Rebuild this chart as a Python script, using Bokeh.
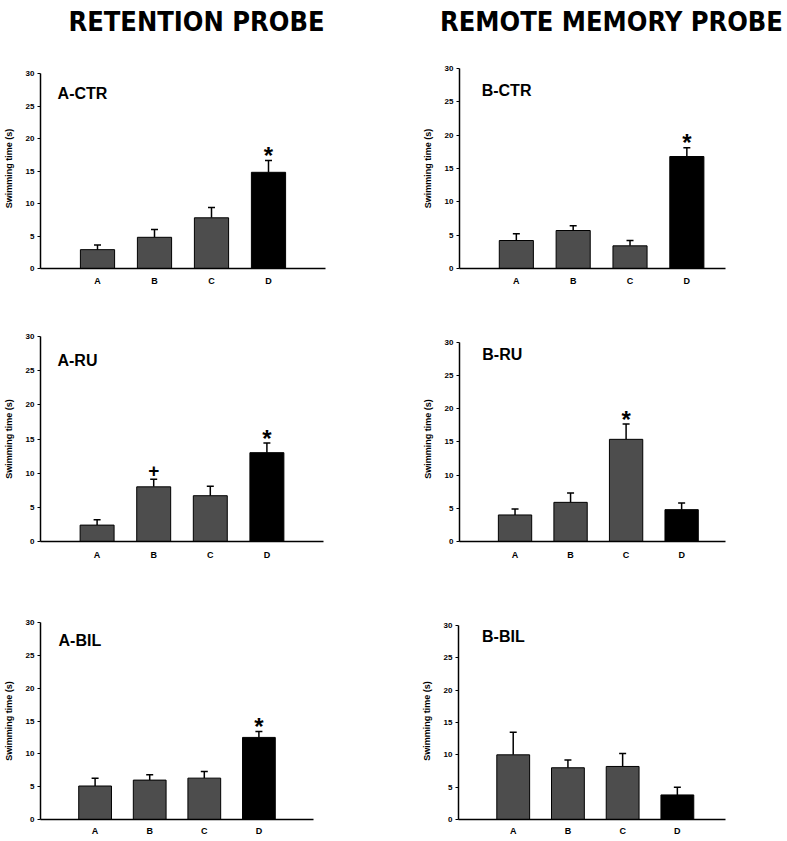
from bokeh.plotting import figure
from bokeh.models import Range1d, FixedTicker, ColumnDataSource, Whisker, TeeHead
from bokeh.layouts import column, row
from bokeh.embed import file_html
from bokeh.resources import INLINE
from bokeh.core.properties import value

# ---------------- data ----------------
categories = ["A", "B", "C", "D"]
x_pos = [1, 2, 3, 4]
y_ticks = [0, 5, 10, 15, 20, 25, 30]
bar_colors = ["#4d4d4d", "#4d4d4d", "#4d4d4d", "#000000"]
column_titles = ["RETENTION PROBE", "REMOTE MEMORY PROBE"]

# Retention probe (left column)
ctr_ret_mean = [2.9, 4.8, 7.8, 14.8]
ctr_ret_sem = [0.7, 1.2, 1.6, 1.8]
ru_ret_mean = [2.4, 8.0, 6.7, 13.0]
ru_ret_sem = [0.8, 1.1, 1.4, 1.4]
bil_ret_mean = [5.1, 6.0, 6.3, 12.5]
bil_ret_sem = [1.2, 0.8, 1.0, 0.9]

# Remote memory probe (right column)
ctr_rem_mean = [4.2, 5.7, 3.4, 16.8]
ctr_rem_sem = [1.0, 0.7, 0.8, 1.3]
ru_rem_mean = [4.0, 5.9, 15.4, 4.8]
ru_rem_sem = [0.9, 1.4, 2.3, 1.0]
bil_rem_mean = [10.0, 8.0, 8.2, 3.8]
bil_rem_sem = [3.5, 1.2, 2.0, 1.2]

# significance marks: (category, symbol)
ctr_ret_marks = [("D", "*")]
ru_ret_marks = [("B", "+"), ("D", "*")]
bil_ret_marks = [("D", "*")]
ctr_rem_marks = [("D", "*")]
ru_rem_marks = [("C", "*")]
bil_rem_marks = []

FONT = "Liberation Sans"


def make_panel(label, means, sems, marks, width, height, bl, br, bt, bb,
               x_end, y_end, lab_x, lab_y, xlab_standoff):
    p = figure(width=width, height=height,
               x_range=Range1d(0, x_end), y_range=Range1d(0, y_end),
               toolbar_location=None, output_backend="svg",
               min_border_left=bl, min_border_right=br,
               min_border_top=bt, min_border_bottom=bb)
    p.outline_line_color = None
    p.grid.visible = False
    p.background_fill_color = "white"
    p.border_fill_color = "white"

    tops = [m + s for m, s in zip(means, sems)]
    src = ColumnDataSource(dict(x=x_pos, top=means, upper=tops, color=bar_colors))
    p.vbar(x="x", top="top", width=0.6, fill_color="color", line_color="black",
           line_width=1, source=src)
    p.add_layout(Whisker(base="x", lower="top", upper="upper", source=src,
                         line_color="black", line_width=1.5,
                         upper_head=TeeHead(size=7, line_width=1.5, line_color="black"),
                         lower_head=None))

    # significance marks
    for sym, size, off in (("*", "24px", -5), ("+", "19px", -9)):
        xs = [x_pos[categories.index(c)] for c, s in marks if s == sym]
        ys = [tops[categories.index(c)] for c, s in marks if s == sym]
        if xs:
            p.text(x=xs, y=ys, text=[sym] * len(xs), text_align="center",
                   text_baseline="alphabetic", y_offset=off,
                   text_font=value(FONT), text_font_style="bold",
                   text_font_size=size, text_color="black")

    # panel label
    p.text(x=[lab_x], y=[lab_y], text=[label], text_align="left",
           text_baseline="alphabetic", y_offset=-6, text_font=value(FONT),
           text_font_style="bold", text_font_size="16px", text_color="black")

    # x axis
    p.xaxis.ticker = FixedTicker(ticks=x_pos)
    p.xaxis.major_label_overrides = {x: c for x, c in zip(x_pos, categories)}
    p.xaxis.minor_tick_line_color = None
    p.xaxis.major_tick_line_color = None
    p.xaxis.major_tick_out = 0
    p.xaxis.major_tick_in = 0
    p.xaxis.minor_tick_out = 0
    p.xaxis.major_label_standoff = xlab_standoff
    p.xaxis.axis_label_standoff = 0
    p.xaxis.major_label_text_font_size = "9px"
    # y axis
    p.yaxis.ticker = FixedTicker(ticks=y_ticks)
    p.yaxis.bounds = (y_ticks[0], y_ticks[-1])
    p.yaxis.minor_tick_line_color = None
    p.yaxis.minor_tick_out = 0
    p.yaxis.major_tick_out = 3
    p.yaxis.major_tick_in = 0
    p.yaxis.major_label_standoff = 3
    p.yaxis.axis_label = "Swimming time (s)"
    p.yaxis.axis_label_standoff = 9
    p.yaxis.axis_label_text_font = FONT
    p.yaxis.axis_label_text_font_style = "bold"
    p.yaxis.axis_label_text_font_size = "9px"
    p.yaxis.axis_label_text_color = "black"
    p.yaxis.major_tick_line_color = "black"
    p.yaxis.major_label_text_font_size = "8px"
    # shared
    p.axis.axis_line_width = 1.5
    p.axis.axis_line_color = "black"
    p.axis.major_label_text_font = FONT
    p.axis.major_label_text_font_style = "bold"
    p.axis.major_label_text_color = "black"
    return p


# header with column titles
header = figure(title=None, width=787, height=50, x_range=Range1d(0, 787),
                y_range=Range1d(0, 50), toolbar_location=None, output_backend="svg",
                x_axis_type=None, y_axis_type=None,
                min_border_left=0, min_border_right=0, min_border_top=0, min_border_bottom=0)
header.outline_line_color = None
header.grid.visible = False
header.text(x=[196, 611], y=[17, 17], text=column_titles, text_align="center",
            text_baseline="alphabetic", y_offset=-12,
            text_font=value("'DejaVu Sans Condensed', 'Liberation Sans', sans-serif"),
            text_font_style="bold", text_font_size="27px", text_color="black")

# row 1: frame 68..268
p1 = make_panel("A-CTR", ctr_ret_mean, ctr_ret_sem, ctr_ret_marks,
                400, 255, 38, 75, 18, 37, 5.0, 30.77, 0.30, 26.0, 7)
p2 = make_panel("B-CTR", ctr_rem_mean, ctr_rem_sem, ctr_rem_marks,
                380, 255, 59, 55, 18, 37, 4.68, 30.0, 0.39, 25.8, 7)
# row 2: frame 336..541
p3 = make_panel("A-RU", ru_ret_mean, ru_ret_sem, ru_ret_marks,
                400, 285, 38, 77, 31, 49, 5.0, 30.0, 0.30, 25.6, 8)
p4 = make_panel("B-RU", ru_rem_mean, ru_rem_sem, ru_rem_marks,
                380, 285, 59, 55, 31, 49, 4.79, 30.9, 0.41, 27.3, 8)
# row 3: frame 622..821
p5 = make_panel("A-BIL", bil_ret_mean, bil_ret_sem, bil_ret_marks,
                400, 248, 37, 87, 32, 17, 5.0, 30.0, 0.33, 26.3, 6)
p6 = make_panel("B-BIL", bil_rem_mean, bil_rem_sem, bil_rem_marks,
                380, 248, 58, 55, 32, 17, 4.88, 30.46, 0.43, 27.4, 6)

layout = column(header, row(p1, p2), row(p3, p4), row(p5, p6))
open("out.html", "w").write(file_html(layout, INLINE))
